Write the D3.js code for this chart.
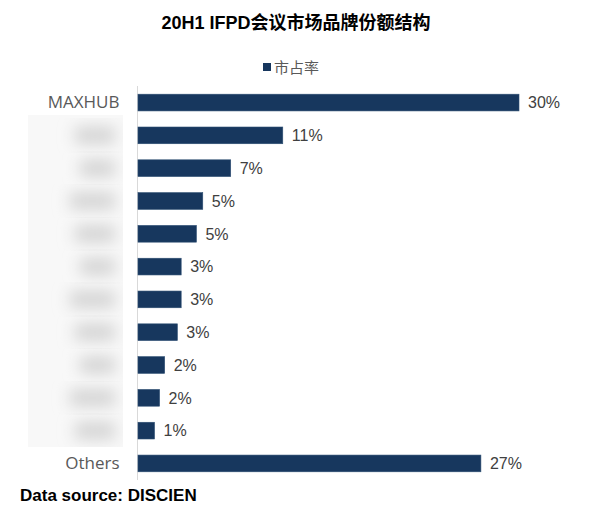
<!DOCTYPE html>
<html><head><meta charset="utf-8">
<script src="https://cdn.jsdelivr.net/npm/d3@7"></script>
<style>body{margin:0;background:#fff;}svg{display:block;}</style>
</head><body>
<svg id="c" width="600" height="507"></svg>
<script>
const title = "20H1 IFPD会议市场品牌份额结构";
const seriesName = "市占率";
const source = "Data source: DISCIEN";
// Brand names 2-11 are blurred out in the original and cannot be read
const categories = ["MAXHUB","","","","","","","","","","","Others"];
const hidden = [false,true,true,true,true,true,true,true,true,true,true,false];
const values = [30.0, 11.4, 7.3, 5.1, 4.6, 3.4, 3.4, 3.1, 2.1, 1.7, 1.3, 27.0];

const svg = d3.select("#c");
const x = d3.scaleLinear().domain([0, 30]).range([138, 519]);
const y = d3.scaleBand().domain(d3.range(categories.length)).range([86, 480]).paddingInner(0.49).paddingOuter(0.25);
const barColor = "#17375e";
const cjk = "'Liberation Sans', Arial, 'Noto Sans CJK SC', sans-serif";

svg.append("text").attr("x", 296).attr("y", 29).attr("text-anchor","middle")
  .attr("font-family", cjk).attr("font-weight","bold").attr("font-size", 18).attr("fill","#000").text(title);

// legend
svg.append("rect").attr("x", 263).attr("y", 63).attr("width", 8).attr("height", 8).attr("fill", barColor);
svg.append("text").attr("x", 274).attr("y", 73).attr("font-family", cjk).attr("font-size", 15).attr("fill","#595959").text(seriesName);

// blur filter for hidden labels
const defs = svg.append("defs");
defs.append("filter").attr("id","bl").attr("x","-50%").attr("y","-50%").attr("width","200%").attr("height","200%")
  .append("feGaussianBlur").attr("stdDeviation", 8);
defs.append("clipPath").attr("id","cp").append("rect").attr("x", 28).attr("y", 115).attr("width", 95).attr("height", 332);
const blurG = svg.append("g").attr("clip-path","url(#cp)");
blurG.append("rect").attr("x",28).attr("y",115).attr("width",95).attr("height",332).attr("fill","#f8f8f8");
categories.forEach((c,i)=>{
  if(!hidden[i]) return;
  blurG.append("rect").attr("x", 70 + (i%3)*5).attr("y", y(i)).attr("width", 45 - (i%3)*5).attr("height", y.bandwidth())
    .attr("fill","#d2d2d2").attr("filter","url(#bl)");
});

// axis
const axis = d3.axisLeft(y).tickSize(0).tickPadding(0).tickFormat(i => categories[i]);
const ag = svg.append("g").attr("transform","translate(137.5,0)").call(axis);
ag.select(".domain").attr("stroke","#d9d9d9").attr("d","M0,86V480");
ag.selectAll("text").attr("x", -18).attr("font-family", "'Open Sans','Liberation Sans',sans-serif")
  .attr("font-size", 17).attr("fill","#595959");

// bars
svg.selectAll("rect.bar").data(values).join("rect").attr("class","bar")
  .attr("x", x(0)).attr("y", (d,i)=>y(i)).attr("width", d=>x(d)-x(0)).attr("height", y.bandwidth())
  .attr("fill", barColor).attr("stroke","#2e4f73").attr("stroke-width",0.6);

svg.selectAll("text.val").data(values).join("text").attr("class","val")
  .attr("x", d=>x(d)+9).attr("y", (d,i)=>y(i)+y.bandwidth()/2).attr("dy","0.36em")
  .attr("font-family","'Liberation Sans',Arial,sans-serif").attr("font-size",16).attr("fill","#404040")
  .text(d=>Math.round(d)+"%");

svg.append("text").attr("x", 20).attr("y", 501).attr("font-family","'Liberation Sans',Arial,sans-serif")
  .attr("font-weight","bold").attr("font-size",17).attr("fill","#000").text(source);
</script>
</body></html>
